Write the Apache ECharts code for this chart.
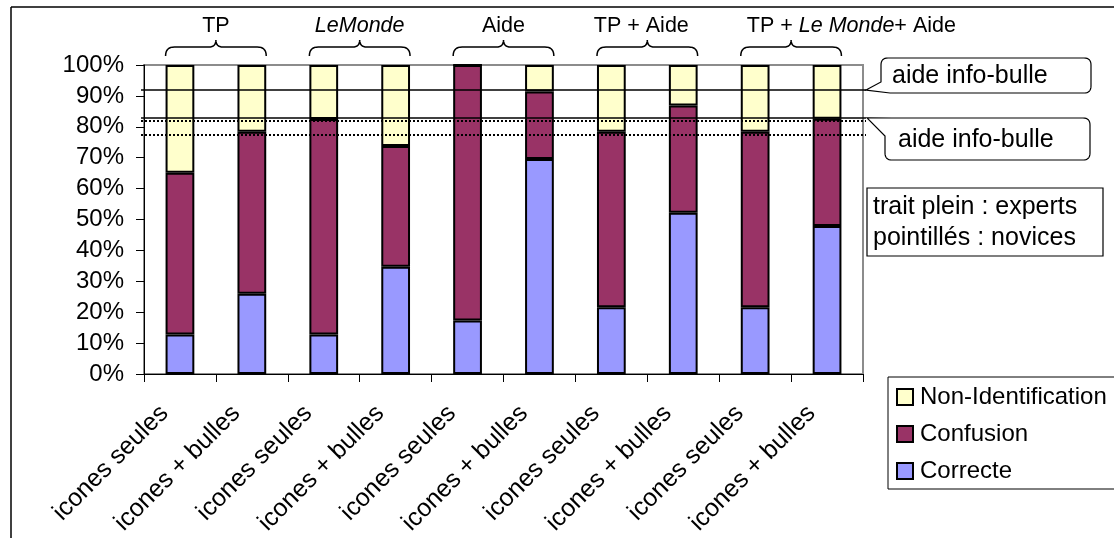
<!DOCTYPE html>
<html><head><meta charset="utf-8">
<script src="https://cdn.jsdelivr.net/npm/echarts@6/dist/echarts.min.js"></script>
<style>html,body{margin:0;padding:0;background:#fff}#c{width:1114px;height:538px}</style>
</head><body><div id="c"></div>
<script>
const categories = ['icones seules','icones + bulles','icones seules','icones + bulles','icones seules','icones + bulles','icones seules','icones + bulles','icones seules','icones + bulles'];
const groupLabels = ['TP','{i|LeMonde}','Aide','TP + Aide','TP + {i|Le Monde}+ Aide'];
const correcte  = [12.8, 26.0, 12.8, 34.7, 17.3, 69.6, 21.6, 52.2, 21.6, 47.9];
const confusion = [52.3, 52.4, 69.7, 39.1, 82.7, 21.8, 56.8, 34.7, 56.8, 34.7];
const nonIdent  = [34.9, 21.6, 17.5, 26.2, 0.0, 8.6, 21.6, 13.1, 21.6, 17.4];
const expertLines = [91.9, 82.9];
const noviceLines = [81.8, 77.3];
const calloutText = 'aide info-bulle';
const noteLines = ['trait plein : experts', 'pointillés : novices'];

const FONT = 'Liberation Sans, Arial, sans-serif';
const chart = echarts.init(document.getElementById('c'), null, {renderer: 'canvas'});

function mkLine(v) {
  return [{yAxis: v, x: 141}, {yAxis: v, x: 866}];
}
const markData = expertLines.map(v => mkLine(v));
const markDataDot = noviceLines.map(v => mkLine(v));

const barStyle = c => ({color: c, borderColor: '#000', borderWidth: 2});
const option = {
  animation: false,
  backgroundColor: '#fff',
  textStyle: {fontFamily: FONT, color: '#000'},
  grid: {left: 144, right: 251, top: 65, bottom: 164, show: true, borderColor: '#8c8c8c', borderWidth: 2, backgroundColor: '#fff',
    containLabel: false, outerBoundsMode: 'none'},
  legend: {
    orient: 'vertical', left: 888, top: 377,
    data: ['Non-Identification', 'Confusion', 'Correcte'],
    itemWidth: 16, itemHeight: 16, itemGap: 13,
    padding: [8, 10, 6, 8],
    borderColor: '#000', borderWidth: 1, backgroundColor: '#fff',
    textStyle: {fontSize: 24, fontFamily: FONT, color: '#000', padding: [0, 0, 0, 2]},
    icon: 'rect', selectedMode: false
  },
  xAxis: {
    type: 'category', data: categories,
    axisLine: {lineStyle: {color: '#000', width: 1}},
    axisTick: {show: true, length: 8, lineStyle: {color: '#000'}},
    axisLabel: {interval: 0, rotate: 45, fontSize: 25, color: '#000', fontFamily: FONT, margin: 20, padding: [0, 22, 0, 0]}
  },
  yAxis: {
    type: 'value', min: 0, max: 100, interval: 10,
    axisLine: {show: true, lineStyle: {color: '#000', width: 1}},
    axisTick: {show: true, length: 8, lineStyle: {color: '#000'}},
    axisLabel: {formatter: '{value}%', fontSize: 24, color: '#000', fontFamily: FONT, margin: 20},
    splitLine: {show: false}
  },
  series: [
    {name: 'Correcte', type: 'bar', stack: 's', data: correcte, barWidth: '40%', itemStyle: barStyle('#9999ff'),
      markLine: {silent: true, symbol: 'none', label: {show: false}, lineStyle: {color: '#000', width: 1.5, type: 'solid'}, data: markData}},
    {name: 'Confusion', type: 'bar', stack: 's', data: confusion, itemStyle: barStyle('#993366'),
      markLine: {silent: true, symbol: 'none', label: {show: false}, lineStyle: {color: '#000', width: 2, type: [2, 2]}, data: markDataDot}},
    {name: 'Non-Identification', type: 'bar', stack: 's', data: nonIdent, itemStyle: barStyle('#ffffcc')}
  ]
};
chart.setOption(option);

function pts(cmds) {
  const out = [];
  let cur = null;
  for (const c of cmds) {
    if (c[0] === 'M' || c[0] === 'L') { cur = [c[1], c[2]]; out.push(cur); }
    else if (c[0] === 'Q') {
      const [_, cx, cy, x, y] = c;
      for (let t = 1; t <= 8; t++) {
        const s = t / 8, a = (1 - s) * (1 - s), b = 2 * (1 - s) * s, d = s * s;
        out.push([a * cur[0] + b * cx + d * x, a * cur[1] + b * cy + d * y]);
      }
      cur = [x, y];
    }
  }
  return out;
}

const px = (i, v) => chart.convertToPixel({xAxisIndex: 0, yAxisIndex: 0}, [i, v]);
const band = px(1, 0)[0] - px(0, 0)[0];
const half = band * 0.4 / 2;
const g = [];
g.push({type: 'line', shape: {x1: 11, y1: 7, x2: 1114, y2: 7}, style: {stroke: '#000', lineWidth: 1.5}, z: 100});
g.push({type: 'line', shape: {x1: 11, y1: 7, x2: 11, y2: 538}, style: {stroke: '#000', lineWidth: 1.5}, z: 100});
for (let k = 0; k < groupLabels.length; k++) {
  const x0 = px(2 * k, 0)[0] - half;
  const x1 = px(2 * k + 1, 0)[0] + half;
  const xc = (x0 + x1) / 2;
  const yh = 47, yb = 56, yt = 40;
  const p = pts([['M', x0, yb], ['Q', x0, yh, x0 + 9, yh], ['L', xc - 7, yh], ['Q', xc, yh, xc, yt],
    ['Q', xc, yh, xc + 7, yh], ['L', x1 - 9, yh], ['Q', x1, yh, x1, yb]]);
  g.push({type: 'polyline', shape: {points: p}, style: {fill: null, stroke: '#000', lineWidth: 1.5}, z: 100});
  const last = k === groupLabels.length - 1;
  g.push({type: 'text', x: last ? x0 + 6 : (k === 3 ? xc - 6 : xc), y: 26, style: {text: groupLabels[k], fontSize: 21.5, fontFamily: FONT, fill: '#000',
    align: last ? 'left' : 'center', verticalAlign: 'middle',
    rich: {i: {fontStyle: 'italic', fontSize: 21.5, fontFamily: FONT, fill: '#000'}}}, z: 100});
}
const t1 = chart.convertToPixel({yAxisIndex: 0}, expertLines[0]);
const t2 = chart.convertToPixel({yAxisIndex: 0}, expertLines[1]);
const b1 = pts([['M', 866, t1], ['L', 881, 82], ['L', 881, 65], ['Q', 881, 58, 888, 58], ['L', 1084, 58], ['Q', 1091, 58, 1091, 65],
  ['L', 1091, 86], ['Q', 1091, 93, 1084, 93], ['L', 890, 93]]);
const b2 = pts([['M', 867, t2], ['L', 892, 118], ['L', 1083, 118], ['Q', 1090, 118, 1090, 125], ['L', 1090, 153], ['Q', 1090, 160, 1083, 160],
  ['L', 892, 160], ['Q', 885, 160, 885, 153], ['L', 885, 136]]);
g.push({type: 'polygon', shape: {points: b1}, style: {fill: '#fff', stroke: '#000', lineWidth: 1.2}, z: 100});
g.push({type: 'polygon', shape: {points: b2}, style: {fill: '#fff', stroke: '#000', lineWidth: 1.2}, z: 100});
g.push({type: 'text', x: 892, y: 76, style: {text: calloutText, fontSize: 25, fontFamily: FONT, fill: '#000', verticalAlign: 'middle'}, z: 101});
g.push({type: 'text', x: 898, y: 140, style: {text: calloutText, fontSize: 25, fontFamily: FONT, fill: '#000', verticalAlign: 'middle'}, z: 101});
g.push({type: 'rect', shape: {x: 867, y: 188, width: 236, height: 68}, style: {fill: '#fff', stroke: '#000', lineWidth: 1.2}, z: 100});
g.push({type: 'text', x: 873, y: 207, style: {text: noteLines[0], fontSize: 25, fontFamily: FONT, fill: '#000', verticalAlign: 'middle'}, z: 101});
g.push({type: 'text', x: 873, y: 238, style: {text: noteLines[1], fontSize: 25, fontFamily: FONT, fill: '#000', verticalAlign: 'middle'}, z: 101});
chart.setOption({graphic: g});
</script></body></html>
